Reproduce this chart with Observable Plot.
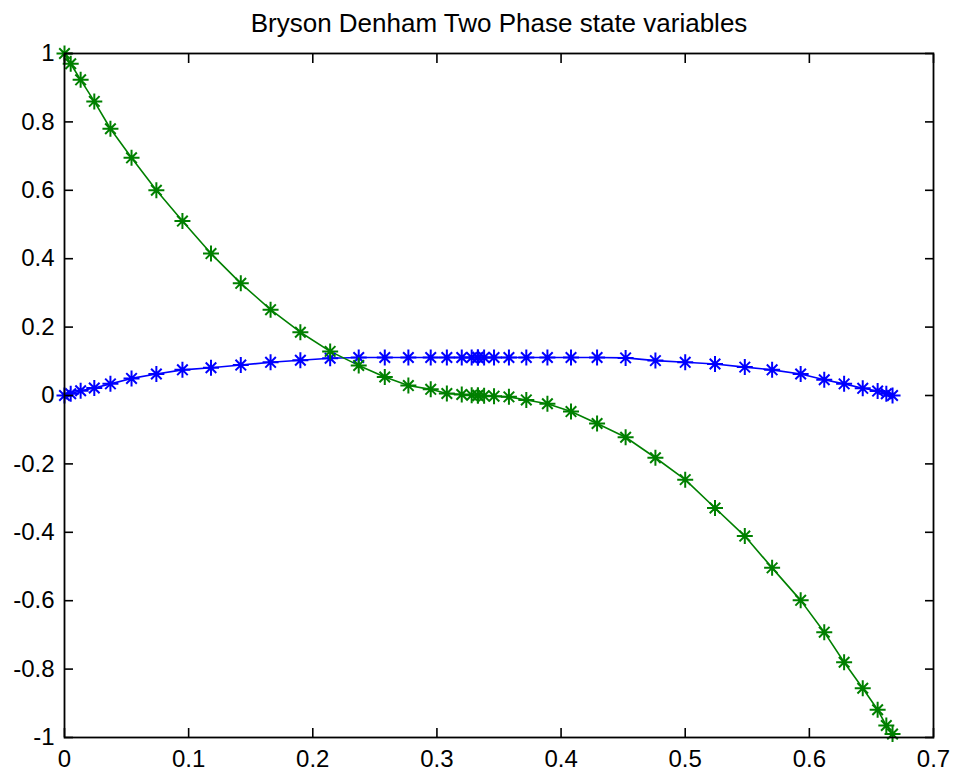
<!DOCTYPE html>
<html>
<head>
<meta charset="utf-8">
<script src="https://cdn.jsdelivr.net/npm/d3@7"></script>
<script src="https://cdn.jsdelivr.net/npm/@observablehq/plot@0.6"></script>
<style>
  body { margin: 0; background: #fff; }
</style>
</head>
<body>
<div id="chart"></div>
<script>
// Bryson–Denham two-phase solution: state x1 (blue) and x2 (green) at the collocation nodes
const title = "Bryson Denham Two Phase state variables";

const tPhase1 = [0, 0.005, 0.013, 0.024, 0.037, 0.054, 0.074, 0.095, 0.118, 0.142, 0.166,
                 0.190, 0.214, 0.237, 0.258, 0.277, 0.295, 0.308, 0.320, 0.328, 0.333];
const tPhase2 = [0.333, 0.338, 0.346, 0.358, 0.372, 0.389, 0.408, 0.429, 0.452, 0.476, 0.500,
                 0.524, 0.548, 0.570, 0.593, 0.612, 0.628, 0.643, 0.655, 0.662, 0.667];

const x1Phase1 = [0, 0.005, 0.014, 0.022, 0.034, 0.050, 0.063, 0.075, 0.081, 0.089, 0.097,
                  0.103, 0.109, 0.111, 0.111, 0.111, 0.111, 0.111, 0.111, 0.111, 0.111];
const x1Phase2 = [0.111, 0.111, 0.111, 0.111, 0.111, 0.111, 0.111, 0.111, 0.110, 0.102, 0.097,
                  0.092, 0.083, 0.075, 0.063, 0.046, 0.034, 0.021, 0.013, 0.005, 0];

const x2Phase1 = [1.0, 0.97, 0.923, 0.86, 0.78, 0.695, 0.60, 0.51, 0.415, 0.328, 0.251,
                  0.185, 0.129, 0.088, 0.054, 0.029, 0.018, 0.006, 0.003, 0.001, 0];
const x2Phase2 = [0, -0.001, -0.002, -0.004, -0.013, -0.024, -0.047, -0.082, -0.122, -0.182, -0.246,
                  -0.329, -0.411, -0.504, -0.599, -0.692, -0.78, -0.856, -0.919, -0.965, -0.99];

const seriesNames = ["x1", "x2"];
const seriesColors = ["#0000ff", "#008000"];

const xTicks = [0, 0.1, 0.2, 0.3, 0.4, 0.5, 0.6, 0.7];
const yTicks = [-1, -0.8, -0.6, -0.4, -0.2, 0, 0.2, 0.4, 0.6, 0.8, 1];

// long-format rows: one per node per state
const rows = [];
const addSeries = (name, ts, vs) => ts.forEach((t, i) => rows.push({series: name, t, value: vs[i]}));
addSeries("x1", tPhase1, x1Phase1);
addSeries("x1", tPhase2, x1Phase2);
addSeries("x2", tPhase1, x2Phase1);
addSeries("x2", tPhase2, x2Phase2);

// eight-armed asterisk marker (plus overlaid with a cross)
const star = {
  draw(context, size) {
    const r = Math.sqrt(size / Math.PI);
    const d = r * 0.66;
    context.moveTo(0, -r); context.lineTo(0, r);
    context.moveTo(-r, 0); context.lineTo(r, 0);
    context.moveTo(-d, -d); context.lineTo(d, d);
    context.moveTo(-d, d); context.lineTo(d, -d);
  }
};

const fmt = d => String(+d.toFixed(1));
const blank = () => "";
// inward-pointing ticks on all four sides of the box
const tickStyle = {tickSize: -9, tickFormat: blank, label: null, strokeWidth: 1.6, stroke: "#000"};

const chart = Plot.plot({
  width: 953,
  height: 777,
  marginLeft: 64,
  marginRight: 20,
  marginTop: 53,
  marginBottom: 40,
  style: {fontFamily: "'Liberation Sans', Arial, sans-serif", fontSize: "24px", background: "#fff", color: "#000"},
  x: {domain: [0, 0.7], label: null},
  y: {domain: [-1, 1], label: null},
  color: {domain: seriesNames, range: seriesColors},
  marks: [
    Plot.line(rows, {x: "t", y: "value", z: "series", stroke: "series", strokeWidth: 1.6}),
    Plot.dot(rows, {x: "t", y: "value", stroke: "series", symbol: star, r: 8, strokeWidth: 2, fill: "none"}),
    Plot.frame({stroke: "#000", strokeWidth: 1.8}),
    Plot.axisX(xTicks, {anchor: "bottom", tickSize: 0, tickPadding: 12, tickFormat: fmt, label: null, fontSize: 24}),
    Plot.axisX(xTicks, {anchor: "bottom", ...tickStyle}),
    Plot.axisX(xTicks, {anchor: "top", ...tickStyle}),
    Plot.axisY(yTicks, {anchor: "left", tickSize: 0, tickPadding: 10, tickFormat: fmt, label: null, fontSize: 24}),
    Plot.axisY(yTicks, {anchor: "left", ...tickStyle}),
    Plot.axisY(yTicks, {anchor: "right", ...tickStyle}),
    Plot.text([title], {text: d => d, frameAnchor: "top", dy: -22, lineAnchor: "bottom", fontSize: 26, fill: "#000"})
  ]
});

document.getElementById("chart").appendChild(chart);
</script>
</body>
</html>
